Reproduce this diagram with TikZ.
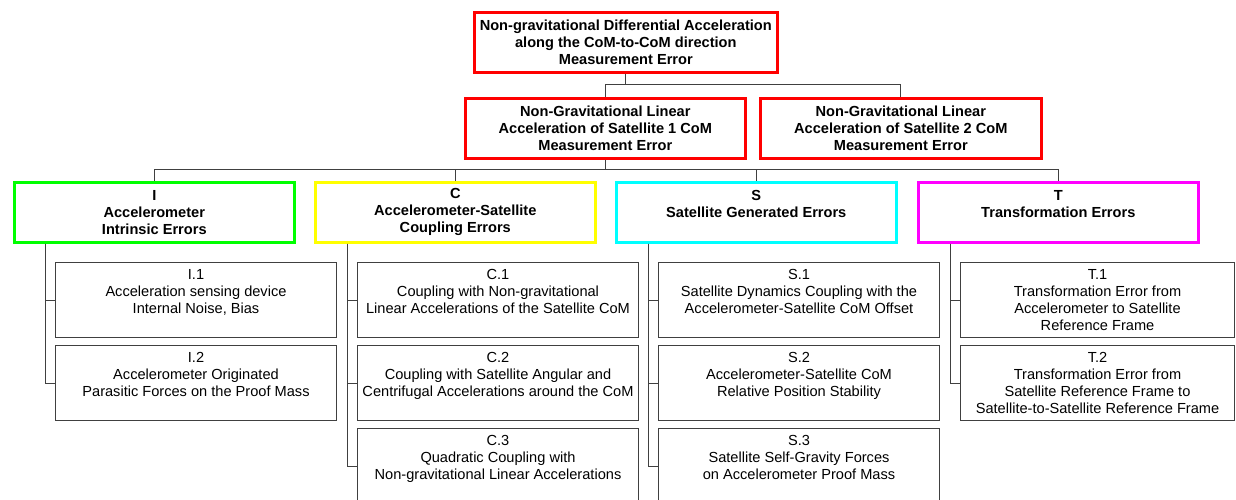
\documentclass[tikz,border=0pt]{standalone}
\usepackage{fontspec}
\setmainfont{Liberation Sans}
\usetikzlibrary{calc}
\definecolor{errred}{RGB}{255,0,0}
\definecolor{errgreen}{RGB}{0,255,0}
\definecolor{erryellow}{RGB}{255,255,0}
\definecolor{errcyan}{RGB}{0,255,255}
\definecolor{errmagenta}{RGB}{255,0,255}
\definecolor{linegray}{RGB}{64,64,64}

\begin{document}
\begin{tikzpicture}[x=1pt,y=-1pt,
    errbox/.style={draw=#1, line width=2.6pt, anchor=north west, align=center, inner sep=1pt,
        minimum width=280pt, minimum height=60pt, font=\fontsize{14.6}{17}\selectfont\bfseries},
    leafbox/.style={draw=linegray, line width=1pt, anchor=north west, align=center, inner sep=1pt,
        minimum width=281pt, minimum height=75pt, font=\fontsize{14.6}{17}\selectfont},
    link/.style={draw=linegray, line width=1pt}]
    \useasboundingbox (0,0) rectangle (1236,499);

    \node[errbox=errred, minimum width=303pt] (diff) at (473,11) {Non-gravitational Differential Acceleration\\along the CoM-to-CoM direction\\Measurement Error};
    \node[errbox=errred] (sat1) at (464,97) {Non-Gravitational Linear\\Acceleration of Satellite 1 CoM\\Measurement Error};
    \node[errbox=errred, minimum width=281pt] (sat2) at (759,97) {Non-Gravitational Linear\\Acceleration of Satellite 2 CoM\\Measurement Error};

    \node[errbox=errgreen] (I) at (13,181) {I\\Accelerometer\\Intrinsic Errors};
    \node[errbox=erryellow] (C) at (314,181) {C\\Accelerometer-Satellite\\Coupling Errors};
    \node[errbox=errcyan] (S) at (615,181) {S\\Satellite Generated Errors\\\mbox{}};
    \node[errbox=errmagenta] (T) at (917,181) {T\\Transformation Errors\\\mbox{}};

    \node[leafbox] (I1) at (55,262) {I.1\\Acceleration sensing device\\Internal Noise, Bias\\\mbox{}};
    \node[leafbox] (I2) at (55,345) {I.2\\Accelerometer Originated\\Parasitic Forces on the Proof Mass\\\mbox{}};
    \node[leafbox] (C1) at (357,262) {C.1\\Coupling with Non-gravitational\\Linear Accelerations of the Satellite CoM\\\mbox{}};
    \node[leafbox] (C2) at (357,345) {C.2\\Coupling with Satellite Angular and\\Centrifugal Accelerations around the CoM\\\mbox{}};
    \node[leafbox] (C3) at (357,428) {C.3\\Quadratic Coupling with\\Non-gravitational Linear Accelerations\\\mbox{}};
    \node[leafbox] (S1) at (658,262) {S.1\\Satellite Dynamics Coupling with the\\Accelerometer-Satellite CoM Offset\\\mbox{}};
    \node[leafbox] (S2) at (658,345) {S.2\\Accelerometer-Satellite CoM\\Relative Position Stability\\\mbox{}};
    \node[leafbox] (S3) at (658,428) {S.3\\Satellite Self-Gravity Forces\\on Accelerometer Proof Mass\\\mbox{}};
    \node[leafbox, minimum width=274pt] (T1) at (960,262) {T.1\\Transformation Error from\\Accelerometer to Satellite\\Reference Frame};
    \node[leafbox, minimum width=274pt] (T2) at (960,345) {T.2\\Transformation Error from\\Satellite Reference Frame to\\Satellite-to-Satellite Reference Frame};

    \draw[link] (diff.south) -- ($(diff.south)+(0,11)$) coordinate (d1);
    \draw[link] (d1) -| (sat1.north);
    \draw[link] (d1) -| (sat2.north);

    \draw[link] (sat1.south) -- ($(sat1.south)+(0,10)$) coordinate (s1);
    \draw[link] (s1) -| (I.north);
    \draw[link] (s1) -| (C.north);
    \draw[link] (s1) -| (S.north);
    \draw[link] (s1) -| (T.north);

    \coordinate (Ib) at ($(I.south -| I1.west)+(-10,0)$);
    \coordinate (Cb) at ($(C.south -| C1.west)+(-10,0)$);
    \coordinate (Sb) at ($(S.south -| S1.west)+(-10,0)$);
    \coordinate (Tb) at ($(T.south -| T1.west)+(-10,0)$);
    \draw[link] (Ib) |- (I1.west);
    \draw[link] (Ib) |- (I2.west);
    \draw[link] (Cb) |- (C1.west);
    \draw[link] (Cb) |- (C2.west);
    \draw[link] (Cb) |- (C3.west);
    \draw[link] (Sb) |- (S1.west);
    \draw[link] (Sb) |- (S2.west);
    \draw[link] (Sb) |- (S3.west);
    \draw[link] (Tb) |- (T1.west);
    \draw[link] (Tb) |- (T2.west);
\end{tikzpicture}
\end{document}
